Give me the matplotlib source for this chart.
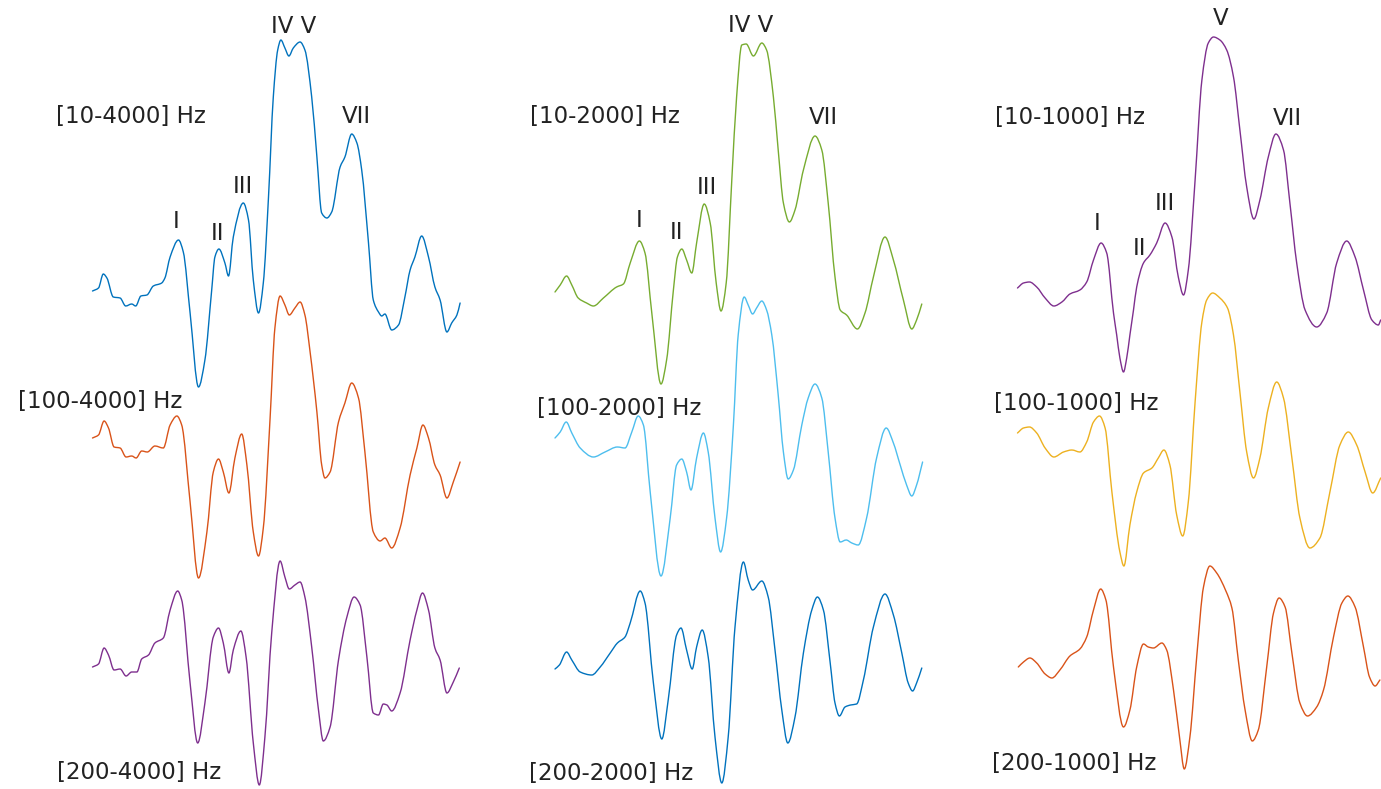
import matplotlib
matplotlib.use("Agg")
import matplotlib.pyplot as plt
from matplotlib.path import Path
from matplotlib.patches import PathPatch

# ---- waveform data: latency (ms) and amplitude (uV) for each band-pass filter ----
# Low-pass 4000 Hz
t_10_4000 = [0.00, 0.15, 0.27, 0.36, 0.52, 0.69, 0.83, 0.98, 1.08, 1.21, 1.36, 1.52, 1.73, 1.81, 1.94,
             2.15, 2.27, 2.44, 2.65, 2.81, 2.98, 3.06, 3.16, 3.31, 3.40, 3.52, 3.77, 3.90, 4.02, 4.15,
             4.27, 4.40, 4.52, 4.63, 4.71, 4.81, 4.91, 5.02, 5.19, 5.31, 5.48, 5.61, 5.73, 5.86, 5.98,
             6.19, 6.31, 6.48, 6.61, 6.73, 6.90, 7.02, 7.15, 7.23, 7.31, 7.48, 7.65, 7.81, 7.94, 8.06,
             8.23, 8.40, 8.56, 8.69, 8.86, 8.98, 9.11, 9.19]
a_10_4000 = [-0.01, 0.02, 0.16, 0.12, -0.07, -0.08, -0.16, -0.14, -0.16, -0.06, -0.05, 0.04, 0.07, 0.12, 0.33,
             0.50, 0.38, -0.23, -0.97, -0.70, 0.00, 0.33, 0.41, 0.27, 0.14, 0.53, 0.87, 0.70, 0.10, -0.23,
             0.07, 0.93, 1.93, 2.40, 2.50, 2.42, 2.34, 2.42, 2.48, 2.40, 1.93, 1.33, 0.77, 0.72, 0.78,
             1.23, 1.33, 1.56, 1.47, 1.20, 0.47, -0.10, -0.22, -0.26, -0.24, -0.40, -0.35, -0.07, 0.20, 0.33,
             0.54, 0.33, 0.03, -0.10, -0.42, -0.33, -0.25, -0.13]

t_100_4000 = [0.00, 0.15, 0.29, 0.40, 0.54, 0.69, 0.84, 0.98, 1.09, 1.23, 1.37, 1.56, 1.77, 1.94, 2.11,
              2.23, 2.44, 2.65, 2.86, 3.02, 3.15, 3.27, 3.41, 3.56, 3.73, 3.86, 4.02, 4.15, 4.27, 4.44,
              4.56, 4.69, 4.81, 4.92, 5.06, 5.19, 5.31, 5.44, 5.61, 5.73, 5.81, 5.94, 6.15, 6.31, 6.48,
              6.65, 6.81, 7.02, 7.19, 7.31, 7.48, 7.69, 7.94, 8.11, 8.26, 8.40, 8.56, 8.69, 8.86, 9.02,
              9.19]
a_100_4000 = [-0.02, 0.01, 0.15, 0.08, -0.11, -0.12, -0.21, -0.20, -0.22, -0.15, -0.16, -0.10, -0.12, 0.11, 0.20,
              0.11, -0.66, -1.42, -0.96, -0.36, -0.23, -0.36, -0.57, -0.22, 0.02, -0.29, -0.96, -1.20, -0.92, 0.18,
              1.08, 1.40, 1.31, 1.21, 1.28, 1.34, 1.21, 0.84, 0.24, -0.29, -0.42, -0.36, 0.14, 0.33, 0.53,
              0.38, -0.16, -0.96, -1.05, -1.02, -1.12, -0.92, -0.39, -0.12, 0.11, -0.02, -0.29, -0.39, -0.62, -0.46,
              -0.26]

t_200_4000 = [0.00, 0.15, 0.29, 0.40, 0.54, 0.69, 0.84, 0.98, 1.11, 1.23, 1.40, 1.56, 1.77, 1.94, 2.13,
              2.23, 2.44, 2.63, 2.81, 3.02, 3.15, 3.27, 3.41, 3.52, 3.71, 3.84, 4.02, 4.17, 4.31, 4.48,
              4.69, 4.81, 4.92, 5.06, 5.19, 5.31, 5.48, 5.65, 5.77, 5.94, 6.15, 6.36, 6.54, 6.69, 6.86,
              7.02, 7.15, 7.27, 7.36, 7.48, 7.69, 7.94, 8.11, 8.25, 8.40, 8.56, 8.69, 8.86, 9.02, 9.17]
a_200_4000 = [0.01, 0.04, 0.20, 0.13, -0.02, -0.01, -0.08, -0.04, -0.04, 0.09, 0.13, 0.25, 0.30, 0.58, 0.77,
              0.68, -0.15, -0.75, -0.35, 0.31, 0.40, 0.25, -0.05, 0.18, 0.37, 0.11, -0.75, -1.17, -0.69, 0.35,
              1.07, 0.91, 0.79, 0.83, 0.86, 0.71, 0.21, -0.42, -0.73, -0.59, 0.08, 0.51, 0.71, 0.63, 0.11,
              -0.45, -0.47, -0.36, -0.37, -0.43, -0.25, 0.28, 0.58, 0.75, 0.58, 0.20, 0.08, -0.25, -0.14, 0.00]

# Low-pass 2000 Hz
t_10_2000 = [0.00, 0.13, 0.29, 0.42, 0.58, 0.79, 0.96, 1.21, 1.54, 1.71, 1.88, 2.11, 2.25, 2.42, 2.65,
             2.79, 2.96, 3.06, 3.17, 3.29, 3.42, 3.54, 3.73, 3.88, 4.03, 4.15, 4.28, 4.42, 4.54, 4.67,
             4.78, 4.96, 5.17, 5.29, 5.46, 5.58, 5.71, 5.86, 6.00, 6.21, 6.50, 6.67, 6.83, 7.00, 7.13,
             7.29, 7.56, 7.75, 7.96, 8.25, 8.46, 8.71, 8.92, 9.04, 9.17]
a_10_2000 = [-0.02, 0.05, 0.14, 0.05, -0.08, -0.13, -0.16, -0.08, 0.03, 0.06, 0.27, 0.49, 0.37, -0.23, -0.94,
             -0.70, 0.00, 0.33, 0.41, 0.30, 0.17, 0.47, 0.86, 0.67, 0.07, -0.21, 0.07, 1.10, 1.93, 2.45,
             2.46, 2.34, 2.47, 2.40, 1.93, 1.40, 0.87, 0.68, 0.80, 1.20, 1.54, 1.40, 0.87, 0.13, -0.20,
             -0.25, -0.39, -0.23, 0.13, 0.53, 0.30, -0.10, -0.39, -0.30, -0.14]

t_100_2000 = [0.00, 0.13, 0.28, 0.42, 0.63, 0.96, 1.25, 1.56, 1.75, 1.92, 2.08, 2.21, 2.38, 2.65, 2.88,
              3.04, 3.17, 3.29, 3.40, 3.54, 3.71, 3.83, 4.00, 4.14, 4.29, 4.46, 4.58, 4.73, 4.83, 4.94,
              5.04, 5.17, 5.29, 5.42, 5.58, 5.71, 5.83, 5.96, 6.17, 6.33, 6.50, 6.67, 6.83, 7.00, 7.13,
              7.28, 7.42, 7.58, 7.79, 8.04, 8.28, 8.46, 8.63, 8.79, 8.92, 9.04, 9.19]
a_100_2000 = [-0.02, 0.04, 0.14, 0.03, -0.12, -0.21, -0.16, -0.11, -0.12, 0.04, 0.20, 0.11, -0.56, -1.40, -0.82,
              -0.29, -0.23, -0.36, -0.54, -0.22, 0.03, -0.16, -0.82, -1.16, -0.82, 0.11, 1.01, 1.39, 1.31, 1.22,
              1.28, 1.35, 1.26, 1.01, 0.41, -0.16, -0.43, -0.34, 0.11, 0.38, 0.52, 0.38, -0.16, -0.82, -1.06,
              -1.04, -1.07, -1.09, -0.82, -0.22, 0.08, -0.07, -0.29, -0.49, -0.60, -0.49, -0.26]

t_200_2000 = [0.00, 0.11, 0.29, 0.42, 0.63, 0.92, 1.13, 1.38, 1.56, 1.75, 1.88, 2.13, 2.25, 2.46, 2.67,
              2.83, 3.04, 3.15, 3.29, 3.43, 3.54, 3.68, 3.83, 4.00, 4.17, 4.33, 4.50, 4.71, 4.83, 4.94,
              5.17, 5.33, 5.50, 5.67, 5.82, 6.00, 6.21, 6.42, 6.56, 6.71, 6.88, 7.00, 7.11, 7.25, 7.39,
              7.54, 7.71, 7.96, 8.25, 8.46, 8.67, 8.83, 8.94, 9.04, 9.17]
a_200_2000 = [-0.01, 0.03, 0.16, 0.08, -0.04, -0.07, 0.01, 0.15, 0.25, 0.31, 0.45, 0.77, 0.65, -0.15, -0.71,
              -0.32, 0.33, 0.40, 0.18, -0.01, 0.21, 0.38, 0.11, -0.69, -1.15, -0.69, 0.41, 1.06, 0.88, 0.78,
              0.87, 0.71, 0.18, -0.42, -0.75, -0.49, 0.15, 0.58, 0.71, 0.58, 0.05, -0.35, -0.48, -0.39, -0.37,
              -0.36, -0.12, 0.41, 0.74, 0.53, 0.15, -0.15, -0.23, -0.15, 0.00]

# Low-pass 1000 Hz
t_10_1000 = [0.00, 0.15, 0.30, 0.48, 0.69, 0.91, 1.11, 1.31, 1.56, 1.73, 1.90, 2.09, 2.23, 2.40, 2.48,
             2.56, 2.65, 2.73, 2.81, 2.90, 2.98, 3.15, 3.31, 3.48, 3.69, 3.86, 4.02, 4.15, 4.27, 4.44,
             4.61, 4.77, 4.90, 5.06, 5.23, 5.40, 5.56, 5.73, 5.91, 6.06, 6.27, 6.46, 6.65, 6.81, 6.98,
             7.19, 7.48, 7.73, 7.98, 8.23, 8.44, 8.65, 8.86, 9.02, 9.08]
a_10_1000 = [0.02, 0.07, 0.08, 0.03, -0.08, -0.16, -0.12, -0.04, 0.00, 0.08, 0.30, 0.47, 0.37, -0.23, -0.45,
             -0.68, -0.82, -0.68, -0.45, -0.20, 0.03, 0.27, 0.35, 0.47, 0.67, 0.53, 0.13, -0.05, 0.20, 1.10,
             2.10, 2.47, 2.53, 2.50, 2.40, 2.13, 1.60, 1.03, 0.71, 0.90, 1.33, 1.56, 1.40, 0.87, 0.27,
             -0.20, -0.37, -0.23, 0.27, 0.49, 0.33, 0.00, -0.30, -0.35, -0.30]

t_100_1000 = [0.00, 0.15, 0.30, 0.48, 0.69, 0.91, 1.15, 1.36, 1.56, 1.73, 1.90, 2.05, 2.19, 2.36, 2.56,
              2.66, 2.81, 2.98, 3.15, 3.36, 3.52, 3.66, 3.81, 3.98, 4.13, 4.27, 4.44, 4.61, 4.73, 4.88,
              5.06, 5.25, 5.40, 5.56, 5.73, 5.90, 6.06, 6.27, 6.48, 6.65, 6.86, 7.06, 7.31, 7.56, 7.81,
              8.06, 8.27, 8.48, 8.69, 8.88, 9.08]
a_100_1000 = [0.03, 0.08, 0.09, 0.03, -0.12, -0.21, -0.16, -0.14, -0.16, -0.06, 0.14, 0.20, 0.08, -0.56, -1.16,
              -1.30, -0.89, -0.56, -0.37, -0.32, -0.22, -0.14, -0.29, -0.79, -1.00, -0.66, 0.34, 1.14, 1.36, 1.43,
              1.38, 1.28, 1.01, 0.44, -0.16, -0.42, -0.22, 0.28, 0.54, 0.38, -0.22, -0.82, -1.12, -1.02, -0.56,
              -0.09, 0.04, -0.09, -0.36, -0.57, -0.42]

t_200_1000 = [0.02, 0.15, 0.31, 0.48, 0.69, 0.86, 1.06, 1.31, 1.56, 1.73, 1.90, 2.08, 2.21, 2.40, 2.65,
              2.81, 2.98, 3.15, 3.27, 3.40, 3.61, 3.73, 3.90, 4.05, 4.17, 4.31, 4.48, 4.65, 4.81, 4.98,
              5.21, 5.36, 5.52, 5.69, 5.87, 6.02, 6.23, 6.40, 6.54, 6.69, 6.86, 7.06, 7.25, 7.48, 7.65,
              7.90, 8.11, 8.26, 8.44, 8.65, 8.80, 8.94, 9.06]
a_200_1000 = [0.01, 0.06, 0.10, 0.05, -0.06, -0.10, -0.02, 0.12, 0.19, 0.31, 0.58, 0.79, 0.68, 0.01, -0.59,
              -0.42, 0.01, 0.24, 0.21, 0.20, 0.25, 0.18, -0.22, -0.69, -1.01, -0.69, 0.11, 0.81, 1.02, 0.95,
              0.77, 0.60, 0.08, -0.42, -0.73, -0.62, 0.01, 0.55, 0.70, 0.61, 0.15, -0.35, -0.48, -0.39, -0.22,
              0.31, 0.65, 0.72, 0.61, 0.21, -0.09, -0.18, -0.12]

# ---- panel contents ----
panel_curves = [
    [(t_10_4000, a_10_4000), (t_100_4000, a_100_4000), (t_200_4000, a_200_4000)],
    [(t_10_2000, a_10_2000), (t_100_2000, a_100_2000), (t_200_2000, a_200_2000)],
    [(t_10_1000, a_10_1000), (t_100_1000, a_100_1000), (t_200_1000, a_200_1000)],
]
band_labels = [
    ["[10-4000] Hz", "[100-4000] Hz", "[200-4000] Hz"],
    ["[10-2000] Hz", "[100-2000] Hz", "[200-2000] Hz"],
    ["[10-1000] Hz", "[100-1000] Hz", "[200-1000] Hz"],
]
wave_names = [
    ["I", "II", "III", "IV V", "VII"],
    ["I", "II", "III", "IV V", "VII"],
    ["I", "II", "III", "V", "VII"],
]

# ---- layout and style ----
W, H = 1381, 789
colors = [
    ["#0072BD", "#D95319", "#7E2F8E"],
    ["#77AC30", "#4DBEEE", "#0072BD"],
    ["#7E2F8E", "#EDB120", "#D95319"],
]
panel_left_px = [92.5, 555.0, 1017.5]
px_per_ms = 40.0
px_per_uv = 100.0
trace_offsets = [-2.90, -4.36, -6.68]
# band label anchors (ms, uV) in each panel's axes
band_pos = [
    [(-0.90, -1.23), (-1.86, -4.08), (-0.88, -7.79)],
    [(-0.63, -1.23), (-0.44, -4.15), (-0.65, -7.80)],
    [(-0.56, -1.24), (-0.59, -4.10), (-0.65, -7.70)],
]
# wave name anchors (ms, uV)
wave_pos = [
    [(2.09, -2.28), (3.12, -2.40), (3.77, -1.93), (5.04, -0.33), (6.59, -1.23)],
    [(2.11, -2.27), (3.05, -2.39), (3.80, -1.94), (4.90, -0.32), (6.71, -1.24)],
    [(2.00, -2.30), (3.05, -2.55), (3.68, -2.10), (5.08, -0.25), (6.75, -1.25)],
]


def smooth_trace_path(t, y):
    """Monotone cubic (PCHIP-style) Bezier path passing through every sample."""
    n = len(t)
    h = [t[k + 1] - t[k] for k in range(n - 1)]
    d = [(y[k + 1] - y[k]) / h[k] for k in range(n - 1)]
    m = [0.0] * n
    m[0], m[-1] = d[0], d[-1]
    for k in range(1, n - 1):
        if d[k - 1] * d[k] <= 0:
            m[k] = 0.0
        else:
            w1 = 2 * h[k] + h[k - 1]
            w2 = h[k] + 2 * h[k - 1]
            m[k] = (w1 + w2) / (w1 / d[k - 1] + w2 / d[k])
    verts = [(t[0], y[0])]
    codes = [Path.MOVETO]
    for k in range(n - 1):
        verts += [(t[k] + h[k] / 3, y[k] + m[k] * h[k] / 3),
                  (t[k + 1] - h[k] / 3, y[k + 1] - m[k + 1] * h[k] / 3),
                  (t[k + 1], y[k + 1])]
        codes += [Path.CURVE4] * 3
    return Path(verts, codes)


fig = plt.figure(figsize=(W / 100, H / 100), dpi=100)
fig.patch.set_facecolor("white")
text_kw = dict(family="DejaVu Sans", fontsize=16.5, color="#222222", va="baseline")

xspan = 9.2
for p in range(3):
    ax = fig.add_axes([panel_left_px[p] / W, 0, xspan * px_per_ms / W, 1])
    ax.set_xlim(0, xspan)
    ax.set_ylim(-H / px_per_uv, 0)
    ax.axis("off")
    for r, (t, a) in enumerate(panel_curves[p]):
        y = [trace_offsets[r] + v for v in a]
        patch = PathPatch(smooth_trace_path(t, y), fill=False, edgecolor=colors[p][r],
                          lw=1.0, joinstyle="round", capstyle="round", clip_on=False)
        ax.add_patch(patch)
        bx, by = band_pos[p][r]
        ax.text(bx, by, band_labels[p][r], ha="left", **text_kw)
    for name, (wx, wy) in zip(wave_names[p], wave_pos[p]):
        ax.text(wx, wy, name, ha="center", **text_kw)

fig.savefig("out.png", dpi=100, facecolor="white")
